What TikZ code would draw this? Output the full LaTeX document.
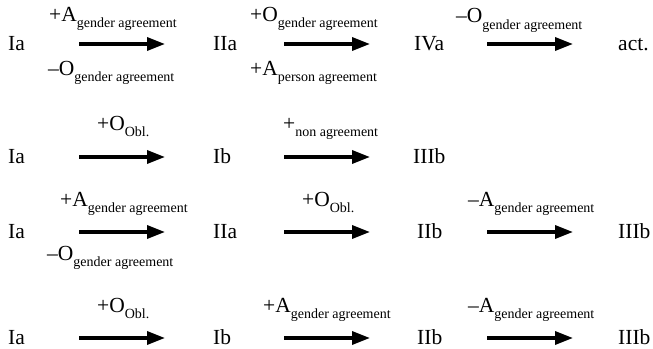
\documentclass[tikz,border=0pt]{standalone}
\usepackage{fontspec}
\setmainfont{Liberation Serif}
\usetikzlibrary{arrows.meta}
% lowered subscript set in a smaller size
\newcommand{\lowsub}[1]{\raisebox{-6.5pt}{\fontsize{14}{14}\selectfont #1}}
\begin{document}
\begin{tikzpicture}[x=1pt,y=-1pt,
  state/.style={anchor=base west, inner sep=0pt, font=\fontsize{21.5}{24}\selectfont},
  lab/.style={anchor=base west, inner sep=0pt, font=\fontsize{21.5}{24}\selectfont},
  arr/.style={line width=3.3pt, -{Triangle[length=18pt,width=13pt]}}]
\fill[white] (0,0) rectangle (653,348);
\useasboundingbox (0,0) rectangle (653,348);

% ---- row 1 ----
\node[state] (r1a) at (8,50)   {Ia};
\node[state] (r1b) at (213,50) {IIa};
\node[state] (r1c) at (414,50) {IVa};
\node[state] (r1d) at (618,50) {act.};
\node[lab] (r1l1) at (49,21)  {+A\lowsub{gender agreement}};
\node[lab] (r1l2) at (48,75)  {–O\lowsub{gender agreement}};
\node[lab] (r1l3) at (250,21) {+O\lowsub{gender agreement}};
\node[lab] (r1l4) at (250,75) {+A\lowsub{person agreement}};
\node[lab] (r1l5) at (456,23) {–O\lowsub{gender agreement}};
\draw[arr] ([shift={(71pt,6pt)}]r1a.base west) -- ([shift={(-48pt,6pt)}]r1b.base west);
\draw[arr] ([shift={(71pt,6pt)}]r1b.base west) -- ([shift={(-44pt,6pt)}]r1c.base west);
\draw[arr] ([shift={(73pt,6pt)}]r1c.base west) -- ([shift={(-45pt,6pt)}]r1d.base west);

% ---- row 2 ----
\node[state] (r2a) at (8,163)   {Ia};
\node[state] (r2b) at (213,163) {Ib};
\node[state] (r2c) at (413,163) {IIIb};
\node[lab] (r2l1) at (97,130)  {+O\lowsub{Obl.}};
\node[lab] (r2l2) at (283,130) {+\lowsub{non agreement}};
\draw[arr] ([shift={(71pt,6pt)}]r2a.base west) -- ([shift={(-48pt,6pt)}]r2b.base west);
\draw[arr] ([shift={(71pt,6pt)}]r2b.base west) -- ([shift={(-43pt,6pt)}]r2c.base west);

% ---- row 3 ----
\node[state] (r3a) at (8,238)   {Ia};
\node[state] (r3b) at (213,238) {IIa};
\node[state] (r3c) at (417,238) {IIb};
\node[state] (r3d) at (618,238) {IIIb};
\node[lab] (r3l1) at (60,206)  {+A\lowsub{gender agreement}};
\node[lab] (r3l2) at (47,260)  {–O\lowsub{gender agreement}};
\node[lab] (r3l3) at (302,206) {+O\lowsub{Obl.}};
\node[lab] (r3l4) at (468,206) {–A\lowsub{gender agreement}};
\draw[arr] ([shift={(71pt,6pt)}]r3a.base west) -- ([shift={(-48pt,6pt)}]r3b.base west);
\draw[arr] ([shift={(71pt,6pt)}]r3b.base west) -- ([shift={(-47pt,6pt)}]r3c.base west);
\draw[arr] ([shift={(70pt,6pt)}]r3c.base west) -- ([shift={(-45pt,6pt)}]r3d.base west);

% ---- row 4 ----
\node[state] (r4a) at (8,344)   {Ia};
\node[state] (r4b) at (213,344) {Ib};
\node[state] (r4c) at (417,344) {IIb};
\node[state] (r4d) at (618,344) {IIIb};
\node[lab] (r4l1) at (97,312)  {+O\lowsub{Obl.}};
\node[lab] (r4l2) at (263,312) {+A\lowsub{gender agreement}};
\node[lab] (r4l3) at (468,312) {–A\lowsub{gender agreement}};
\draw[arr] ([shift={(71pt,6pt)}]r4a.base west) -- ([shift={(-48pt,6pt)}]r4b.base west);
\draw[arr] ([shift={(71pt,6pt)}]r4b.base west) -- ([shift={(-47pt,6pt)}]r4c.base west);
\draw[arr] ([shift={(70pt,6pt)}]r4c.base west) -- ([shift={(-45pt,6pt)}]r4d.base west);
\end{tikzpicture}
\end{document}
